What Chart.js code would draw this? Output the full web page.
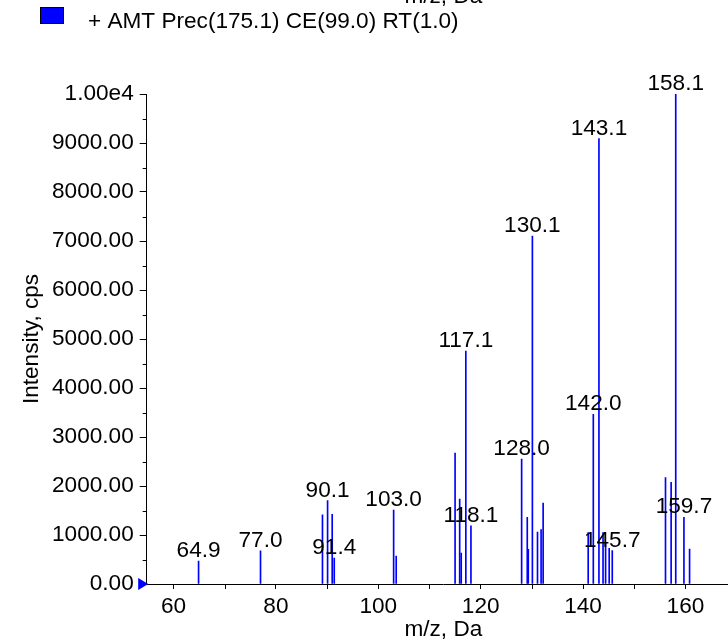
<!DOCTYPE html>
<html>
<head>
<meta charset="utf-8">
<script src="https://cdn.jsdelivr.net/npm/chart.js@4.4.1/dist/chart.umd.min.js"></script>
<style>
  html, body { margin: 0; padding: 0; background: #fff; overflow: hidden; }
</style>
</head>
<body>
<canvas id="chart" width="740" height="641"></canvas>
<script>
const FONT = '"Liberation Sans", Arial, sans-serif';
const FSIZE = 22.6;

// peak positions (m/z, Da) and intensities (cps)
const mz = [64.9, 77.0, 89.1, 90.1, 91.0, 91.4, 103.0, 103.5,
  115.0, 115.9, 116.2, 117.1, 118.1,
  128.0, 129.1, 129.3, 130.1, 131.1, 131.8, 132.2,
  141.0, 142.0, 143.1, 143.9, 144.4, 145.1, 145.7,
  156.1, 157.2, 158.1, 159.7, 160.8];
const intensity = [470, 675, 1410, 1700, 1420, 530, 1510, 570,
  2670, 1735, 630, 4755, 1185,
  2550, 1360, 710, 7100, 1060, 1110, 1650,
  1050, 3465, 9090, 1050, 830, 730, 680,
  2170, 2075, 9995, 1360, 715];

// peaks that carry an m/z label
const labelled = [64.9, 77.0, 90.1, 91.4, 103.0, 117.1, 118.1, 128.0, 130.1, 142.0, 143.1, 145.7, 158.1, 159.7];

const xTicks = [60, 80, 100, 120, 140, 160];
const xMinorTicks = [70, 90, 110, 130, 150];
const yTicks = [0, 1000, 2000, 3000, 4000, 5000, 6000, 7000, 8000, 9000, 10000];
const yMinorTicks = [500, 1500, 2500, 3500, 4500, 5500, 6500, 7500, 8500, 9500];

const X_MIN = 54.77;
const X_MAX = 170.65;
const legendText = '+ AMT Prec(175.1) CE(99.0) RT(1.0)';
const xTitle = 'm/z, Da';
const yTitle = 'Intensity, cps';

const BLUE = '#0000ff';

// extras: minor ticks, peak labels, legend, marker at zero
const spectrumExtras = {
  id: 'spectrumExtras',
  afterDraw(chart) {
    const c = chart.ctx;
    const xs = chart.scales.x;
    const ys = chart.scales.y;
    const area = chart.chartArea;
    c.save();

    // minor ticks
    c.strokeStyle = '#000';
    c.lineWidth = 1;
    c.beginPath();
    yMinorTicks.forEach(v => {
      const py = Math.round(ys.getPixelForValue(v)) + 0.5;
      c.moveTo(area.left - 4, py);
      c.lineTo(area.left, py);
    });
    xMinorTicks.forEach(v => {
      const px = Math.round(xs.getPixelForValue(v)) + 0.5;
      c.moveTo(px, area.bottom);
      c.lineTo(px, area.bottom + 5);
    });
    c.stroke();

    // peak labels
    c.fillStyle = '#000';
    c.font = FSIZE + 'px ' + FONT;
    c.textAlign = 'center';
    c.textBaseline = 'alphabetic';
    labelled.forEach(m => {
      const i = mz.indexOf(m);
      if (i < 0) return;
      c.fillText(m.toFixed(1), xs.getPixelForValue(m), ys.getPixelForValue(intensity[i]) - 4);
    });

    // cropped title at very top
    c.fillText(xTitle, (area.left + area.right) / 2, 3);

    // legend
    c.fillStyle = BLUE;
    c.fillRect(40.5, 7.5, 23, 16);
    c.strokeStyle = '#000';
    c.strokeRect(40.5, 7.5, 23, 16);
    c.fillStyle = '#000';
    c.textAlign = 'left';
    c.fillText(legendText, 88, 28);

    // marker at zero level
    const y0 = ys.getPixelForValue(0);
    c.fillStyle = BLUE;
    c.beginPath();
    c.moveTo(area.left + 1.5, y0);
    c.lineTo(area.left - 8.5, y0 - 6);
    c.lineTo(area.left - 8.5, y0 + 6);
    c.closePath();
    c.fill();

    c.restore();
  }
};

const ctx = document.getElementById('chart').getContext('2d');
const chart = new Chart(ctx, {
  type: 'bar',
  data: {
    datasets: [{
      data: mz.map((x, i) => ({ x: x, y: intensity[i] })),
      backgroundColor: BLUE,
      borderWidth: 0,
      barThickness: 1
    }]
  },
  options: {
    responsive: false,
    animation: false,
    devicePixelRatio: 1,
    layout: { padding: { top: 94, left: 0, right: 0, bottom: 0 } },
    plugins: {
      legend: { display: false },
      tooltip: { enabled: false }
    },
    scales: {
      x: {
        type: 'linear',
        min: X_MIN,
        max: X_MAX,
        offset: false,
        afterBuildTicks: s => { s.ticks = xTicks.map(v => ({ value: v })); },
        afterFit: s => { s.height = 57; },
        border: { color: '#000', width: 1 },
        grid: { display: true, drawOnChartArea: false, offset: false, tickLength: 5, color: '#000' },
        ticks: {
          font: { family: FONT, size: FSIZE },
          color: '#000',
          padding: 4,
          maxRotation: 0,
          autoSkip: false,
          callback: v => String(v)
        },
        title: {
          display: true,
          text: xTitle,
          color: '#000',
          font: { family: FONT, size: FSIZE, lineHeight: 1 },
          padding: { top: 0, bottom: 0 }
        }
      },
      y: {
        min: 0,
        max: 10000,
        afterBuildTicks: s => { s.ticks = yTicks.map(v => ({ value: v })); },
        afterFit: s => { s.width = 146.7; },
        border: { color: '#000', width: 1 },
        grid: { display: true, drawOnChartArea: false, tickLength: 7, color: '#000' },
        ticks: {
          font: { family: FONT, size: FSIZE },
          color: '#000',
          padding: 6,
          autoSkip: false,
          callback: v => v === 10000 ? '1.00e4' : Number(v).toFixed(2)
        },
        title: {
          display: true,
          text: yTitle,
          color: '#000',
          font: { family: FONT, size: FSIZE },
          padding: { top: 18, bottom: 0 }
        }
      }
    }
  },
  plugins: [spectrumExtras]
});
</script>
</body>
</html>
